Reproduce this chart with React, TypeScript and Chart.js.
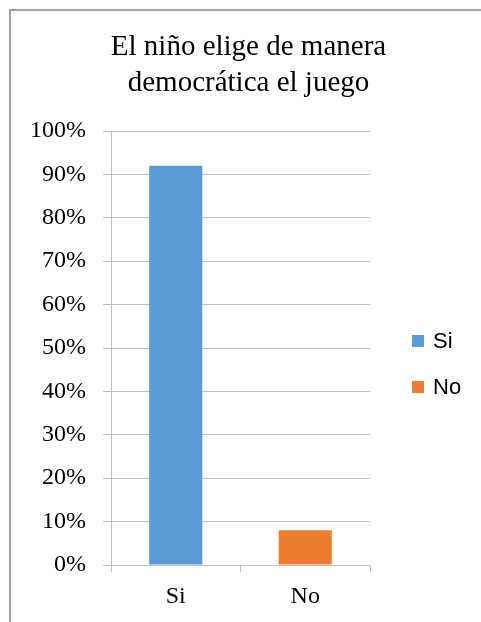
import React, { useEffect, useRef } from "react";
import { Chart, registerables } from "chart.js";

Chart.register(...registerables);

const TITLE_LINES = ["El niño elige de manera", "democrática el juego"];
const CATEGORIES = ["Si", "No"];
const VALUES = [92, 8];
const COLORS = ["#5b9bd5", "#ed7d31"];
const Y_MAX = 100;
const Y_STEP = 10;

const W = 481;
const H = 622;

const SERIF = "'Liberation Serif', 'Times New Roman', serif";

const titlePlugin = {
  id: "frameTitle",
  afterDraw(chart: any) {
    const { ctx } = chart;
    ctx.save();
    ctx.font = `29px ${SERIF}`;
    ctx.fillStyle = "#000";
    ctx.textAlign = "center";
    ctx.textBaseline = "middle";
    const cx = chart.width / 2 + 8;
    TITLE_LINES.forEach((line, i) => {
      ctx.fillText(line, cx, 47 + i * 36);
    });
    ctx.restore();
  },
};

const legendPlugin = {
  id: "sideLegend",
  afterDraw(chart: any) {
    const { ctx, chartArea } = chart;
    ctx.save();
    ctx.font = "22px 'Liberation Sans', Arial, sans-serif";
    ctx.textBaseline = "middle";
    ctx.textAlign = "left";
    const x0 = chartArea.right + 42;
    const yCenter = 364;
    const gap = 46;
    CATEGORIES.forEach((label, i) => {
      const y = yCenter - gap / 2 + i * gap;
      ctx.fillStyle = COLORS[i];
      ctx.fillRect(x0, y - 6, 12, 12);
      ctx.fillStyle = "#000";
      ctx.fillText(label, x0 + 21, y + 1);
    });
    ctx.restore();
  },
};

export default function App() {
  const ref = useRef<HTMLCanvasElement>(null);
  useEffect(() => {
    if (!ref.current) return;
    const chart = new Chart(ref.current, {
      type: "bar",
      data: {
        labels: CATEGORIES,
        datasets: [
          {
            data: VALUES,
            backgroundColor: COLORS,
            barPercentage: 0.41,
            categoryPercentage: 1,
          },
        ],
      },
      options: {
        responsive: false,
        animation: false,
        layout: { padding: { left: 10, right: 111, top: 131, bottom: 0 } },
        plugins: {
          legend: { display: false },
          tooltip: { enabled: false },
          title: { display: false },
        },
        scales: {
          x: {
            afterFit(scale: any) {
              scale.height = 57;
            },
            grid: {
              offset: true,
              drawOnChartArea: false,
              drawTicks: true,
              tickLength: 7,
              color: "#bfbfbf",
              lineWidth: 1,
            },
            border: { display: true, color: "#bfbfbf", width: 1 },
            ticks: {
              color: "#000",
              padding: 10,
              font: { family: SERIF, size: 24 },
            },
          },
          y: {
            min: 0,
            max: Y_MAX,
            afterFit(scale: any) {
              scale.width = 101;
            },
            grid: {
              color: "#bfbfbf",
              tickLength: 8,
              lineWidth: 1,
            },
            border: { display: true, color: "#bfbfbf", width: 1 },
            ticks: {
              stepSize: Y_STEP,
              color: "#000",
              padding: 17,
              font: { family: SERIF, size: 24 },
              callback: (v: any) => `${v}%`,
            },
          },
        },
      },
      plugins: [titlePlugin, legendPlugin],
    });
    return () => chart.destroy();
  }, []);

  return (
    <div style={{ position: "absolute", left: 0, top: 0, width: W, height: H, overflow: "hidden", background: "#fff" }}>
      <div
        style={{
          position: "absolute",
          left: 9,
          top: 9,
          width: 700,
          height: 800,
          border: "2px solid #a3a3a3",
        }}
      />
      <canvas ref={ref} width={W} height={H} style={{ position: "absolute", left: 0, top: 0, width: W, height: H }} />
    </div>
  );
}
